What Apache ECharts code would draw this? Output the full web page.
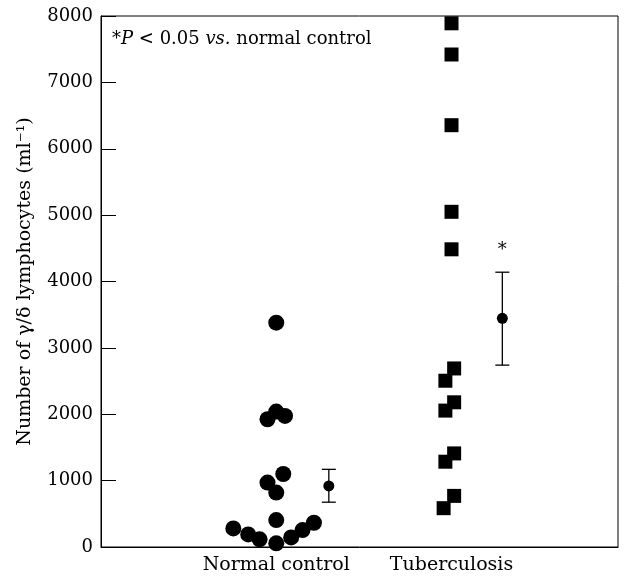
<!DOCTYPE html>
<html>
<head>
<meta charset="utf-8">
<script src="https://cdn.jsdelivr.net/npm/echarts@6/dist/echarts.min.js"></script>
<style>
  html, body { margin: 0; padding: 0; background: #fff; }
  #chart { width: 626px; height: 578px; }
</style>
</head>
<body>
<div id="chart"></div>
<script>
//--------------------------------
// Data
//--------------------------------
const groupNames = ['Normal control', 'Tuberculosis'];
const groupPos = [2, 4];
const yTicks = [0, 1000, 2000, 3000, 4000, 5000, 6000, 7000, 8000];

// individual values [x, y]
const normalPoints = [
    [2.00, 3380], [1.90, 1925], [2.00, 2040], [2.10, 1975],
    [1.90, 970], [2.08, 1100], [2.00, 820], [2.00, 405],
    [1.51, 280], [1.68, 190], [1.81, 115], [2.00, 55],
    [2.17, 145], [2.30, 255], [2.43, 365]
];
const tbPoints = [
    [4.00, 7890], [4.00, 7420], [4.00, 6355], [4.00, 5050], [4.00, 4485],
    [4.03, 2690], [3.93, 2505], [4.03, 2180], [3.93, 2055],
    [4.03, 1410], [3.93, 1285], [4.03, 770], [3.91, 585]
];

// mean +/- SE
const meanX = [2.60, 4.58];
const meanVal = [920, 3445];
const errLow = [675, 2740];
const errHigh = [1170, 4140];
const sigMark = ['', '*'];

//--------------------------------
// Chart
//--------------------------------
const font = 'DejaVu Serif';
var myChart = echarts.init(document.getElementById('chart'));

let errData = meanX.map((x, i) => [x, errLow[i], errHigh[i]]);
let meanData = meanX.map((x, i) => [x, meanVal[i]]);

let options = {
    animation: false,
    backgroundColor: '#fff',
    grid: {
        left: 101,
        right: 8,
        top: 16,
        bottom: 31,
        show: true,
        borderColor: '#000',
        borderWidth: 1
    },
    graphic: [
        {
            type: 'text',
            left: 112,
            top: 30,
            style: {
                text: '*{i|P} < 0.05 {i|vs.} normal control',
                font: '18px "DejaVu Serif"',
                fill: '#000',
                rich: {
                    i: { fontFamily: font, fontSize: 18, fontStyle: 'italic', fill: '#000' }
                }
            }
        }
    ],
    xAxis: {
        type: 'value',
        min: 0,
        max: 5.9,
        interval: 1,
        splitLine: { show: false },
        axisTick: { show: false },
        axisLine: { lineStyle: { color: '#000', width: 1 } },
        axisLabel: {
            margin: 9,
            color: '#000',
            fontFamily: font,
            fontSize: 19,
            showMaxLabel: false,
            formatter: (v) => {
                let idx = groupPos.indexOf(v);
                return idx >= 0 ? groupNames[idx] : '';
            }
        }
    },
    yAxis: {
        type: 'value',
        min: yTicks[0],
        max: yTicks[yTicks.length - 1],
        interval: 1000,
        name: 'Number of \u03b3/\u03b4 lymphocytes (ml\u207b\u00b9)',
        nameLocation: 'middle',
        nameGap: 66,
        nameTextStyle: { color: '#000', fontFamily: font, fontSize: 19 },
        splitLine: { show: false },
        axisLine: { lineStyle: { color: '#000', width: 1 } },
        axisTick: { inside: true, length: 15, lineStyle: { color: '#000' } },
        axisLabel: {
            margin: 8,
            color: '#000',
            fontFamily: font,
            fontSize: 18,
            formatter: (v) => String(v)
        }
    },
    series: [
        {
            name: 'Normal control',
            type: 'scatter',
            symbol: 'circle',
            symbolSize: 16,
            itemStyle: { color: '#000', opacity: 1 },
            data: normalPoints
        },
        {
            name: 'Tuberculosis',
            type: 'scatter',
            symbol: 'rect',
            symbolSize: 14,
            itemStyle: { color: '#000', opacity: 1 },
            data: tbPoints
        },
        {
            name: 'SE',
            type: 'custom',
            renderItem: (params, api) => {
                let x = api.value(0);
                let lo = api.coord([x, api.value(1)]);
                let hi = api.coord([x, api.value(2)]);
                let sig = sigMark[params.dataIndex];
                let cap = 7;
                let st = { stroke: '#000', lineWidth: 1.3 };
                let children = [
                    { type: 'line', shape: { x1: lo[0], y1: lo[1], x2: hi[0], y2: hi[1] }, style: st },
                    { type: 'line', shape: { x1: hi[0] - cap, y1: hi[1], x2: hi[0] + cap, y2: hi[1] }, style: st },
                    { type: 'line', shape: { x1: lo[0] - cap, y1: lo[1], x2: lo[0] + cap, y2: lo[1] }, style: st }
                ];
                if (sig) {
                    children.push({
                        type: 'text',
                        style: {
                            text: sig,
                            x: hi[0],
                            y: hi[1] - 22,
                            align: 'center',
                            verticalAlign: 'middle',
                            font: '18px "DejaVu Serif"',
                            fill: '#000'
                        }
                    });
                }
                return { type: 'group', children: children };
            },
            data: errData,
            z: 3
        },
        {
            name: 'Mean',
            type: 'scatter',
            symbol: 'circle',
            symbolSize: 11,
            itemStyle: { color: '#000', opacity: 1 },
            data: meanData,
            z: 4
        }
    ]
};
myChart.setOption(options);
</script>
</body>
</html>
